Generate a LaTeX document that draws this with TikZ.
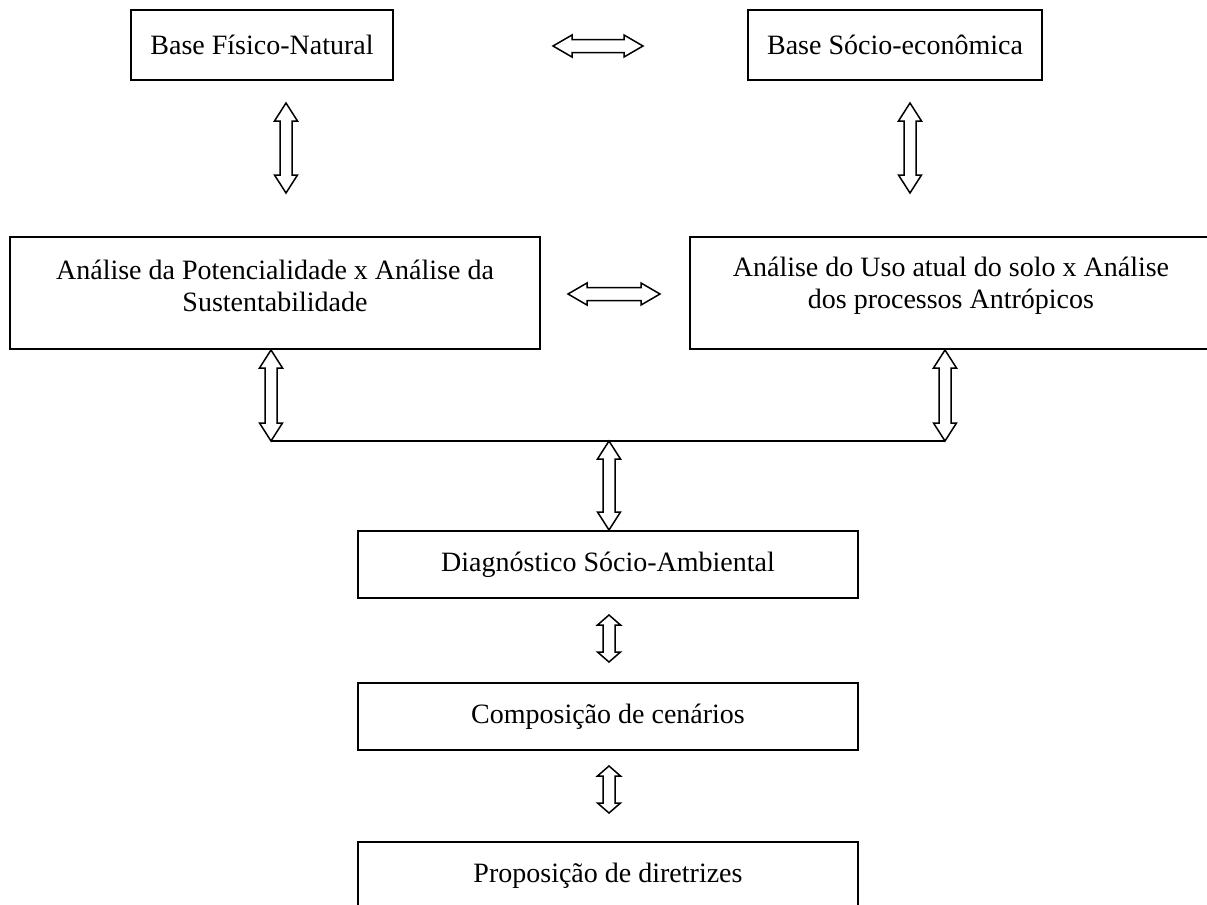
\documentclass[tikz,border=0pt]{standalone}
\usepackage{fontspec}
\setmainfont{Liberation Serif}
\usetikzlibrary{calc}
\tikzset{
  box/.style={draw, line width=1pt, inner sep=0pt, align=center, font=\fontsize{14}{16}\selectfont},
  txt/.style={inner sep=0pt, align=center, font=\fontsize{14}{16}\selectfont},
  arr/.style={draw, line width=0.75pt, fill=white, line join=miter},
  link/.style={line width=1pt}
}
% vertical hollow double arrow: #1 upper end, #2 lower end, #3 head length
\newcommand{\vdbl}[3]{%
  \path[arr] let \p1=(#1), \p2=(#2) in
    (\x1,\y1) -- (\x1+5.75pt,\y1-#3) -- (\x1+3pt,\y1-#3) -- (\x1+3pt,\y2+#3)
    -- (\x1+5.75pt,\y2+#3) -- (\x1,\y2) -- (\x1-5.75pt,\y2+#3) -- (\x1-3pt,\y2+#3)
    -- (\x1-3pt,\y1-#3) -- (\x1-5.75pt,\y1-#3) -- cycle;}
% horizontal hollow double arrow: #1 left end, #2 right end, #3 head length
\newcommand{\hdbl}[3]{%
  \path[arr] let \p1=(#1), \p2=(#2) in
    (\x1,\y1) -- (\x1+#3,\y1+5.5pt) -- (\x1+#3,\y1+3.25pt) -- (\x2-#3,\y1+3.25pt)
    -- (\x2-#3,\y1+5.5pt) -- (\x2,\y1) -- (\x2-#3,\y1-5.5pt) -- (\x2-#3,\y1-3.25pt)
    -- (\x1+#3,\y1-3.25pt) -- (\x1+#3,\y1-5.5pt) -- cycle;}
\begin{document}
\begin{tikzpicture}[x=0.5pt,y=-0.5pt]
\clip (0,0) rectangle (1207,905);
\fill[white] (0,0) rectangle (1207,905);

% boxes
\node[box, minimum width=131pt, minimum height=35pt] (b1) at (262,45) {Base Físico-Natural};
\node[box, minimum width=147pt, minimum height=35pt] (b2) at (895,45) {Base Sócio-econômica};
\node[box, minimum width=265pt, minimum height=56pt] (b3) at (275,293) {};
\node[txt] (t3) at ($(b3.center)+(0,-7)$) {Análise da Potencialidade x Análise da\\Sustentabilidade};
\node[box, minimum width=261pt, minimum height=56pt] (b4) at (951,293) {};
\node[txt] (t4) at ($(b4.center)+(0,-7)$) {Análise do Uso atual do solo x Análise\\dos processos Antrópicos};
\node[box, minimum width=250pt, minimum height=33.5pt] (b5) at (608,564.5) {Diagnóstico Sócio-Ambiental};
\node[box, minimum width=250pt, minimum height=33.5pt] (b6) at (608,716.5) {Composição de cenários};
\node[box, minimum width=250pt, minimum height=33.5pt] (b7) at (608,875.5) {Proposição de diretrizes};

% arrow end points
\coordinate (h1l) at (553,46);  \coordinate (h1r) at (643,46);
\coordinate (v1t) at (286,103); \coordinate (v1b) at (286,193);
\coordinate (v2t) at (910,103); \coordinate (v2b) at (910,193);
\coordinate (h2l) at (568,294); \coordinate (h2r) at (660,294);
\coordinate (jl) at (271,441);  \coordinate (jr) at (945,441);
\coordinate (jm) at (609,441);
\coordinate (v5t) at (609,615); \coordinate (v5b) at (609,662);
\coordinate (v6t) at (609,766); \coordinate (v6b) at (609,813);

% junction line
\draw[link] (jl) -- (jr);

% hollow double arrows
\hdbl{h1l}{h1r}{9.5pt}
\vdbl{v1t}{v1b}{9pt}
\vdbl{v2t}{v2b}{9pt}
\hdbl{h2l}{h2r}{9.5pt}
\vdbl{b3.south -| jl}{jl}{9pt}
\vdbl{b4.south -| jr}{jr}{9pt}
\vdbl{jm}{b5.north}{9pt}
\vdbl{v5t}{v5b}{5pt}
\vdbl{v6t}{v6b}{5pt}
\end{tikzpicture}
\end{document}
